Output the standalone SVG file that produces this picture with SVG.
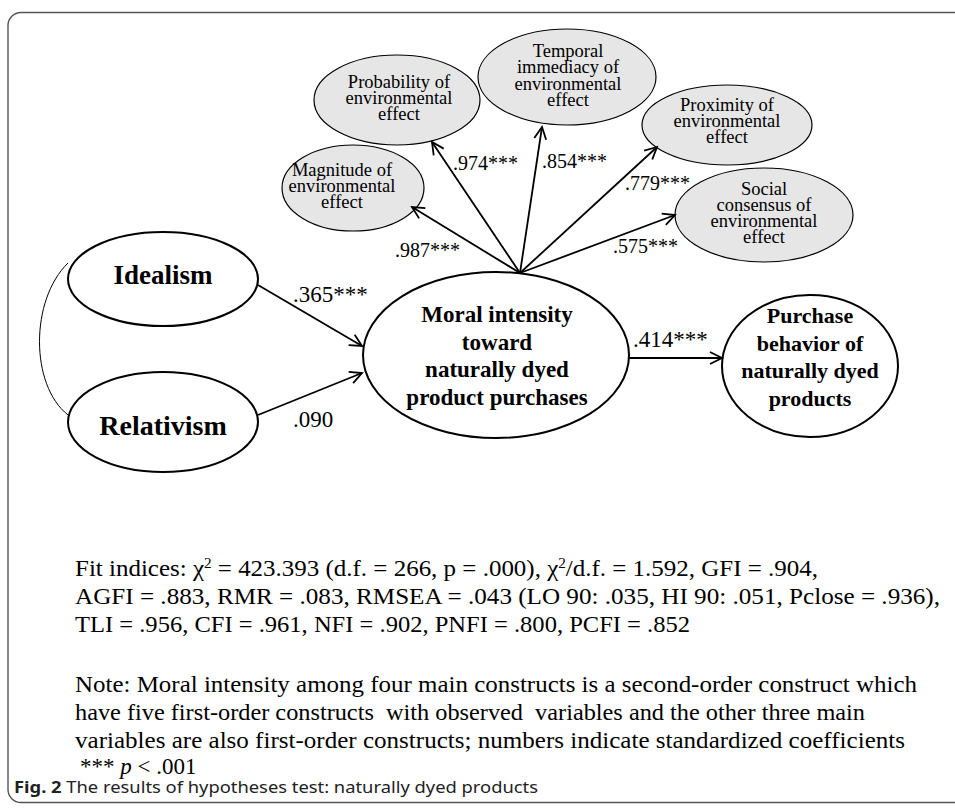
<svg xmlns="http://www.w3.org/2000/svg" width="955" height="808" viewBox="0 0 955 808">
<style>
.frame{fill:none;stroke:#555;stroke-width:1.4}
.sub{fill:#e6e6e6;stroke:#000;stroke-width:1.2}
.main{fill:#fff;stroke:#000;stroke-width:2}
.t{font-family:"Liberation Serif","Times New Roman",serif;fill:#000}
.st{font-size:18.5px;text-anchor:middle}
.bt{font-weight:bold;text-anchor:middle}
.lbl{font-size:20px}
.lbl2{font-size:23px}
.fit{font-size:23px}
.arr{fill:none;stroke:#000;stroke-width:1.8}
.cap{font-family:"Noto Sans","Open Sans",sans-serif;font-size:16px;fill:#222}
</style>
<defs>
<marker id="ah" markerUnits="userSpaceOnUse" markerWidth="16" markerHeight="16" refX="13" refY="7" orient="auto" viewBox="0 0 16 14">
<path d="M1,1 L13,7 L1,13" fill="none" stroke="#000" stroke-width="1.8"/>
</marker>
</defs>
<rect class="frame" x="8" y="12.5" width="980" height="790" rx="13"/>

<g id="magnitude">
<ellipse class="sub" cx="353" cy="188" rx="71" ry="43"/>
<text class="t st"><tspan x="342" y="176">Magnitude of</tspan><tspan x="342" y="192">environmental</tspan><tspan x="342" y="208">effect</tspan></text>
</g>
<g id="probability">
<ellipse class="sub" cx="397" cy="100" rx="83" ry="45"/>
<text class="t st"><tspan x="399" y="88">Probability of</tspan><tspan x="399" y="104">environmental</tspan><tspan x="399" y="120">effect</tspan></text>
</g>
<g id="temporal">
<ellipse class="sub" cx="567" cy="77" rx="89" ry="48"/>
<text class="t st"><tspan x="568" y="57">Temporal</tspan><tspan x="568" y="73">immediacy of</tspan><tspan x="568" y="90">environmental</tspan><tspan x="568" y="106">effect</tspan></text>
</g>
<g id="proximity">
<ellipse class="sub" cx="727" cy="125" rx="85" ry="40"/>
<text class="t st"><tspan x="727" y="111">Proximity of</tspan><tspan x="727" y="127">environmental</tspan><tspan x="727" y="143">effect</tspan></text>
</g>
<g id="social">
<ellipse class="sub" cx="764" cy="215" rx="89" ry="47"/>
<text class="t st"><tspan x="764" y="195">Social</tspan><tspan x="764" y="211">consensus of</tspan><tspan x="764" y="227">environmental</tspan><tspan x="764" y="243">effect</tspan></text>
</g>

<g id="idealism">
<ellipse class="main" cx="163" cy="279" rx="95" ry="47"/>
<text class="t bt" x="163" y="284" font-size="27">Idealism</text>
</g>
<g id="relativism">
<ellipse class="main" cx="163" cy="422" rx="95" ry="50"/>
<text class="t bt" x="163" y="435" font-size="28">Relativism</text>
</g>
<g id="moral">
<ellipse class="main" cx="496" cy="355" rx="133" ry="83"/>
<text class="t bt" font-size="23"><tspan x="497" y="322">Moral intensity</tspan><tspan x="497" y="350">toward</tspan><tspan x="497" y="377">naturally dyed</tspan><tspan x="497" y="405">product purchases</tspan></text>
</g>
<g id="purchase">
<ellipse class="main" cx="810" cy="366" rx="88" ry="71"/>
<text class="t bt" font-size="22"><tspan x="810" y="323">Purchase</tspan><tspan x="810" y="351">behavior of</tspan><tspan x="810" y="378">naturally dyed</tspan><tspan x="810" y="406">products</tspan></text>
</g>

<g id="connectors">
<path class="arr" d="M520,273 L412,207" marker-end="url(#ah)"/>
<path class="arr" d="M520,273 L432,142" marker-end="url(#ah)"/>
<path class="arr" d="M520,273 L542,127" marker-end="url(#ah)"/>
<path class="arr" d="M520,273 L657,147" marker-end="url(#ah)"/>
<path class="arr" d="M520,273 L675,215" marker-end="url(#ah)"/>
<path class="arr" d="M258,285 L362,346" marker-end="url(#ah)"/>
<path class="arr" d="M258,415 L362,373" marker-end="url(#ah)"/>
<path class="arr" d="M628,358 L722,358" marker-end="url(#ah)"/>
<path d="M68,263 C30,300 30,385 68,415" fill="none" stroke="#000" stroke-width="1"/>
<text class="t lbl" x="453" y="170">.974***</text>
<text class="t lbl" x="542" y="168">.854***</text>
<text class="t lbl" x="625" y="190">.779***</text>
<text class="t lbl" x="395" y="257">.987***</text>
<text class="t lbl" x="613" y="253">.575***</text>
<text class="t lbl2" x="293" y="302">.365***</text>
<text class="t lbl2" x="293" y="427">.090</text>
<text class="t lbl2" x="633" y="347">.414***</text>
</g>

<g id="notes">
<text class="t fit" x="75" y="576" textLength="743" lengthAdjust="spacingAndGlyphs">Fit indices: χ<tspan dy="-8" font-size="14">2</tspan><tspan dy="8"> = 423.393 (d.f. = 266, p = .000), χ</tspan><tspan dy="-8" font-size="14">2</tspan><tspan dy="8">/d.f. = 1.592, GFI = .904,</tspan></text>
<text class="t fit" x="75" y="604" textLength="865" lengthAdjust="spacingAndGlyphs">AGFI = .883, RMR = .083, RMSEA = .043 (LO 90: .035, HI 90: .051, Pclose = .936),</text>
<text class="t fit" x="75" y="632" textLength="615" lengthAdjust="spacingAndGlyphs">TLI = .956, CFI = .961, NFI = .902, PNFI = .800, PCFI = .852</text>
<text class="t fit" x="75" y="692" textLength="842" lengthAdjust="spacingAndGlyphs">Note: Moral intensity among four main constructs is a second-order construct which</text>
<text class="t fit" x="75" y="720" textLength="790" lengthAdjust="spacingAndGlyphs" xml:space="preserve">have five first-order constructs  with observed  variables and the other three main</text>
<text class="t fit" x="75" y="748" textLength="830" lengthAdjust="spacingAndGlyphs">variables are also first-order constructs; numbers indicate standardized coefficients</text>
<text class="t fit" x="80" y="774">*** <tspan font-style="italic">p</tspan> &lt; .001</text>
<text class="cap" x="14" y="793" textLength="524" lengthAdjust="spacingAndGlyphs"><tspan font-weight="bold">Fig. 2</tspan>  The results of hypotheses test: naturally dyed products</text>
</g>
</svg>
